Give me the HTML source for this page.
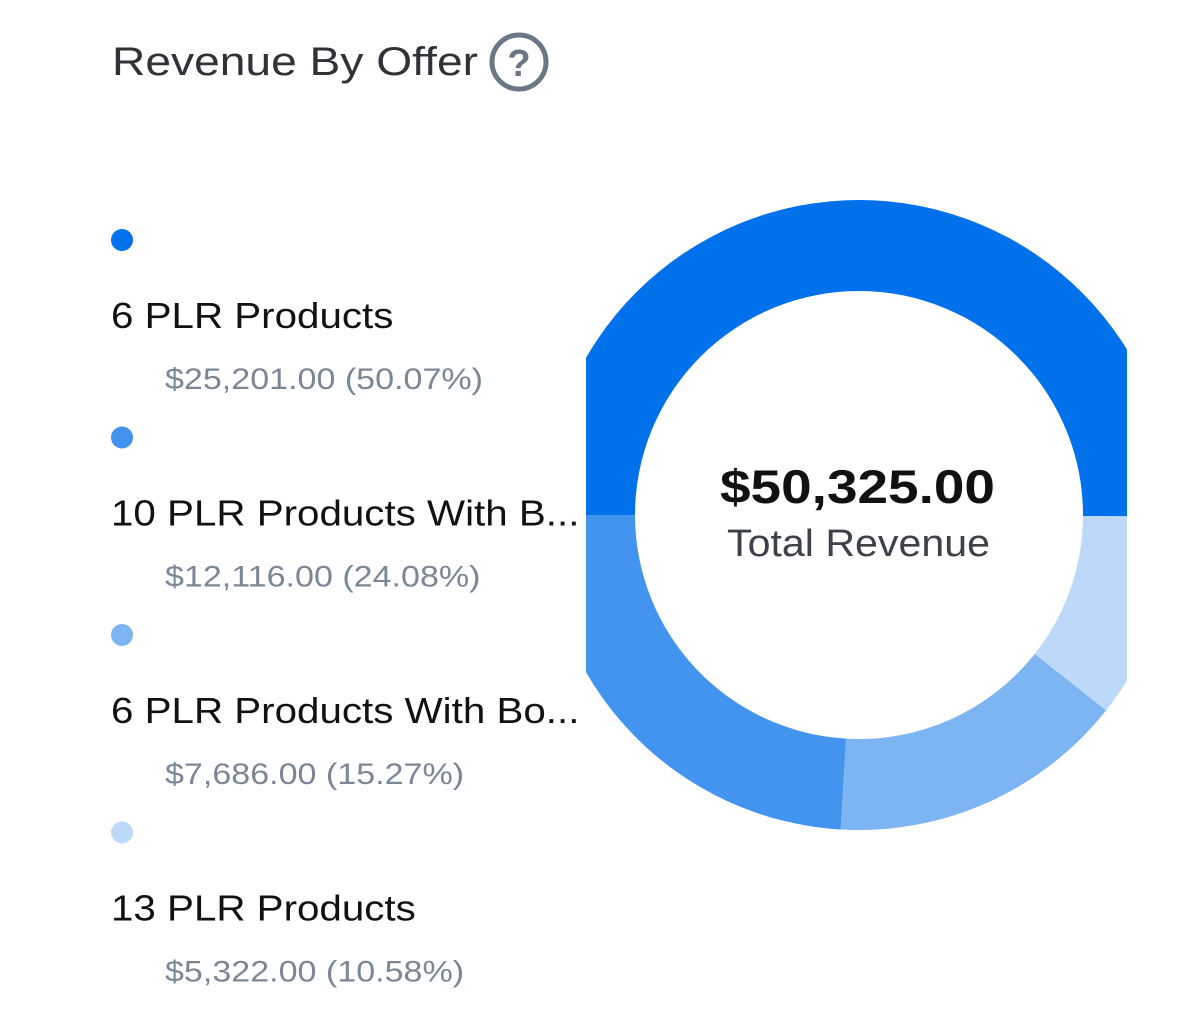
<!DOCTYPE html>
<html><head><meta charset="utf-8"><style>
html,body{margin:0;padding:0;background:#fff;}
svg{display:block;font-family:"Liberation Sans",sans-serif;}
</style></head><body>
<svg id="chart" width="1186" height="1018" viewBox="0 0 1186 1018">
<defs><clipPath id="clip"><rect x="586" y="150" width="541" height="750"/></clipPath></defs>
<text x="112" y="75" font-size="40" fill="#2f3338" textLength="366" lengthAdjust="spacingAndGlyphs">Revenue By Offer</text>
<g>
<circle cx="519" cy="62" r="27" fill="none" stroke="#6b7785" stroke-width="5"/>
<text x="519" y="76" font-size="38" font-weight="bold" fill="#6b7785" text-anchor="middle">?</text>
</g>
<g id="legend"></g>
<g id="donut" clip-path="url(#clip)"></g>
<text x="720" y="503" font-size="47" font-weight="bold" fill="#111" textLength="275" lengthAdjust="spacingAndGlyphs">$50,325.00</text>
<text x="727" y="556" font-size="38" fill="#3c4248" textLength="263" lengthAdjust="spacingAndGlyphs">Total Revenue</text>
</svg>
<script>
const labels=["6 PLR Products","10 PLR Products With B...","6 PLR Products With Bo...","13 PLR Products"];
const values=[25201,12116,7686,5322];
const valueTexts=["$25,201.00 (50.07%)","$12,116.00 (24.08%)","$7,686.00 (15.27%)","$5,322.00 (10.58%)"];
const colors=["#0070eb","#4394ee","#7db5f3","#bdd9fa"];
const drawOrder=[0,3,2,1];
const NS="http://www.w3.org/2000/svg";
const cx=859,cy=515,R=315,r=224;
const total=values.reduce((a,b)=>a+b,0);
const donut=document.getElementById('donut');
let ang=Math.PI;
function pt(a,rad){return [cx+rad*Math.cos(a),cy+rad*Math.sin(a)];}
drawOrder.forEach(i=>{
  const sweep=values[i]/total*2*Math.PI;
  const a0=ang,a1=ang+sweep;ang=a1;
  const large=sweep>Math.PI?1:0;
  const [x0,y0]=pt(a0,R),[x1,y1]=pt(a1,R),[x2,y2]=pt(a1,r),[x3,y3]=pt(a0,r);
  const p=document.createElementNS(NS,'path');
  p.setAttribute('d',`M${x0} ${y0} A${R} ${R} 0 ${large} 1 ${x1} ${y1} L${x2} ${y2} A${r} ${r} 0 ${large} 0 ${x3} ${y3} Z`);
  p.setAttribute('fill',colors[i]);
  
  
  donut.appendChild(p);
});
const legend=document.getElementById('legend');
const scaleL=1.12, scaleV=1.135;
labels.forEach((l,i)=>{
  const y0=240+i*197.5;
  const c=document.createElementNS(NS,'circle');
  c.setAttribute('cx',122);c.setAttribute('cy',y0);c.setAttribute('r',11);c.setAttribute('fill',colors[i]);
  
  
  legend.appendChild(c);
  const t=document.createElementNS(NS,'text');
  t.setAttribute('x',111);t.setAttribute('y',y0+88);t.setAttribute('font-size',36);t.setAttribute('fill','#111');
  t.textContent=l;
  
  
  legend.appendChild(t);
  t.setAttribute('textLength',(t.getComputedTextLength()*scaleL).toFixed(1));
  t.setAttribute('lengthAdjust','spacingAndGlyphs');
  const v=document.createElementNS(NS,'text');
  v.setAttribute('x',165);v.setAttribute('y',y0+149);v.setAttribute('font-size',30);v.setAttribute('fill','#7a8796');
  v.textContent=valueTexts[i];
  
  
  legend.appendChild(v);
  v.setAttribute('textLength',(v.getComputedTextLength()*scaleV).toFixed(1));
  v.setAttribute('lengthAdjust','spacingAndGlyphs');
});
</script>
</body></html>
